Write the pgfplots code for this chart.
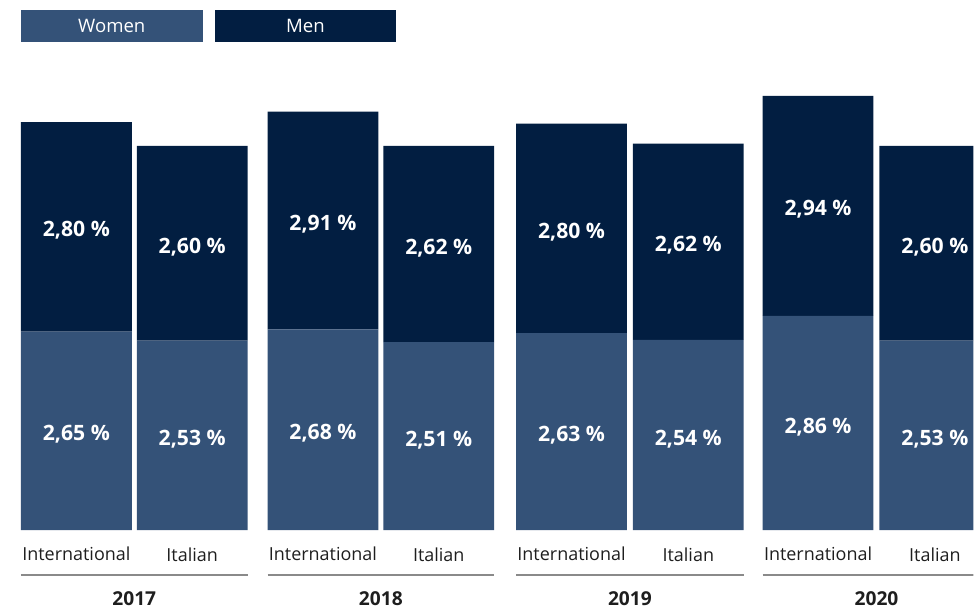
\documentclass[border=0pt]{standalone}
\usepackage{pgfplots}
\pgfplotsset{compat=1.18}
\usepackage{pgfplotstable}
\usepackage{fontspec}
\setmainfont{Open Sans}
\definecolor{women}{HTML}{345278}
\definecolor{men}{HTML}{021E41}
\definecolor{rulegray}{HTML}{8A8A8A}
\definecolor{txt}{HTML}{1E1E1E}
\pgfplotstableread{
x w m
76.5 2.65 2.80
192.5 2.53 2.60
323.5 2.68 2.91
439.5 2.51 2.62
572.5 2.63 2.80
689.5 2.54 2.62
819.5 2.86 2.94
936.5 2.53 2.60
}\data
\pgfplotsset{base/.style={scale only axis, width=487.5pt, height=305pt,
  xmin=0, xmax=975, ymin=-1.05333, ymax=7.08, axis lines=none, clip=true}}
\begin{document}
\begin{tikzpicture}
\begin{axis}[base, ybar stacked, bar width=111]
\addplot[fill=women, draw=none] table[x=x,y=w]{\data};
\addplot[fill=men, draw=none] table[x=x,y=m]{\data};
\end{axis}
\begin{axis}[base,
  nodes near coords={\pgfmathprintnumber[fixed,fixed zerofill,precision=2,use comma,assume math mode=true]{\pgfplotspointmeta}\ \%},
  every node near coord/.append style={anchor=center, text=white, font=\bfseries\fontsize{10.6}{12}\selectfont}]
\path (rel axis cs:0,0) rectangle (rel axis cs:1,1);
\addplot[only marks, mark=none, point meta=explicit] table[x=x, y expr=\thisrow{w}/2-0.05, meta=w]{\data};
\addplot[only marks, mark=none, point meta=explicit] table[x=x, y expr=\thisrow{w}+\thisrow{m}/2-0.05, meta=m]{\data};
% legend
\fill[women] (axis cs:21,6.52) rectangle (axis cs:203,6.9467);
\fill[men] (axis cs:215,6.52) rectangle (axis cs:397,6.9467);
\node[text=white, font=\fontsize{9.3}{11}\selectfont] at (axis cs:112,6.733) {Women};
\node[text=white, font=\fontsize{9.3}{11}\selectfont] at (axis cs:306,6.733) {Men};
% category labels
\begin{scope}[every node/.style={text=txt, font=\fontsize{9}{11}\selectfont}]
\node at (axis cs:76.5,-0.32) {International};
\node at (axis cs:192.5,-0.33) {Italian};
\node at (axis cs:323.5,-0.32) {International};
\node at (axis cs:439.5,-0.33) {Italian};
\node at (axis cs:572.5,-0.32) {International};
\node at (axis cs:689.5,-0.33) {Italian};
\node at (axis cs:819.5,-0.32) {International};
\node at (axis cs:936.5,-0.33) {Italian};
\end{scope}
\draw[rulegray, line width=1pt] (axis cs:21,-0.6) -- (axis cs:248,-0.6);
\draw[rulegray, line width=1pt] (axis cs:268,-0.6) -- (axis cs:495,-0.6);
\draw[rulegray, line width=1pt] (axis cs:517,-0.6) -- (axis cs:745,-0.6);
\draw[rulegray, line width=1pt] (axis cs:764,-0.6) -- (axis cs:992,-0.6);
\begin{scope}[every node/.style={text=txt, font=\bfseries\fontsize{9.6}{11}\selectfont}]
\node at (axis cs:134.5,-0.92) {2017};
\node at (axis cs:381.5,-0.92) {2018};
\node at (axis cs:631,-0.92) {2019};
\node at (axis cs:878,-0.92) {2020};
\end{scope}
\end{axis}
\end{tikzpicture}
\end{document}
